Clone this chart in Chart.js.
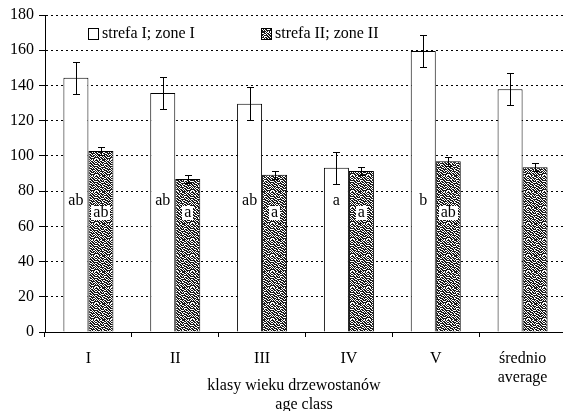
<!DOCTYPE html>
<html><head><meta charset="utf-8">
<script src="https://cdn.jsdelivr.net/npm/chart.js@4/dist/chart.umd.min.js"></script>
<style>html,body{margin:0;padding:0;background:#fff;overflow:hidden;width:563px;height:411px}
#wrap{position:relative;width:566px;height:411px}</style>
</head><body><div id="wrap"><canvas id="c" width="566" height="411"></canvas></div>
<script>
const categories = ['I', 'II', 'III', 'IV', 'V', ['średnio', 'average']];
const seriesNames = ['strefa I; zone I', 'strefa II; zone II'];
const zoneI = [144.4, 135.7, 129.6, 93.3, 159.6, 137.8];
const zoneII = [102.8, 86.9, 89.3, 91.4, 96.9, 93.5];
const errI = [9.1, 9.1, 9.4, 9.0, 9.1, 9.1];
const errII = [2.4, 2.4, 2.3, 2.5, 2.6, 2.3];
const lettersI = ['ab', 'ab', 'ab', 'a', 'b', ''];
const lettersII = ['ab', 'a', 'a', 'a', 'ab', ''];
const yTicks = [0, 20, 40, 60, 80, 100, 120, 140, 160, 180];
const xTitle = ['klasy wieku drzewostanów', 'age class'];

const FONT = '"Liberation Serif", "DejaVu Serif", serif';

function makePattern() {
  const bits = [
    "1101001110100101",
    "0110110011011010",
    "1011011100101101",
    "0100101011110110",
    "1110110100011011",
    "0011011101101100",
    "1101100010110111",
    "0110011111001010",
    "1011101001110101",
    "1100110110011110",
    "0111010011101001",
    "1010111100110110",
    "0101001011011101",
    "1110110101100011",
    "0011011010111110",
    "1001101111010100"
  ];
  const n = bits.length;
  const pc = document.createElement('canvas');
  pc.width = n; pc.height = n;
  const p = pc.getContext('2d');
  p.fillStyle = '#fff'; p.fillRect(0, 0, n, n);
  p.fillStyle = '#1a1a1a';
  for (let r = 0; r < n; r++) for (let c = 0; c < n; c++) if (bits[r][c] === '1') p.fillRect(c, r, 1, 1);
  return document.getElementById('c').getContext('2d').createPattern(pc, 'repeat');
}
const pattern = makePattern();
const errs = [errI, errII];
const letters = [lettersI, lettersII];

const overlay = {
  id: 'overlay',
  afterDatasetsDraw(chart) {
    const ctx = chart.ctx, ys = chart.scales.y;
    ctx.save();
    ctx.strokeStyle = '#000'; ctx.lineWidth = 1;
    chart.data.datasets.forEach((ds, di) => {
      const meta = chart.getDatasetMeta(di);
      meta.data.forEach((bar, i) => {
        const v = ds.data[i], e = errs[di][i];
        const cx = Math.round(bar.x) + 0.5;
        const yt = Math.round(ys.getPixelForValue(v + e)) + 0.5;
        const yb = Math.round(ys.getPixelForValue(v - e)) + 0.5;
        ctx.beginPath();
        ctx.moveTo(cx, yt); ctx.lineTo(cx, yb);
        ctx.moveTo(cx - 3.5, yt); ctx.lineTo(cx + 3.5, yt);
        ctx.moveTo(cx - 3.5, yb); ctx.lineTo(cx + 3.5, yb);
        ctx.stroke();
      });
    });
    // letters
    ctx.font = '16px ' + FONT;
    ctx.textAlign = 'center'; ctx.textBaseline = 'middle';
    const levels = [74.5, 67.5];
    chart.data.datasets.forEach((ds, di) => {
      const meta = chart.getDatasetMeta(di);
      meta.data.forEach((bar, i) => {
        const t = letters[di][i];
        if (!t) return;
        const ly = ys.getPixelForValue(levels[di]);
        if (di === 1) {
          const w = ctx.measureText(t).width + 4;
          ctx.fillStyle = '#fff';
          ctx.fillRect(Math.round(bar.x - w / 2), Math.round(ly - 7), Math.round(w), 14);
        }
        ctx.fillStyle = '#000';
        ctx.fillText(t, bar.x, ly);
      });
    });
    ctx.restore();
  },
  afterDraw(chart) {
    const ctx = chart.ctx;
    ctx.save();
    ctx.font = '16px ' + FONT;
    ctx.textBaseline = 'middle'; ctx.textAlign = 'left';
    // legend
    const items = [{x: 88, fill: '#fff'}, {x: 261, fill: pattern}];
    items.forEach((it, k) => {
      ctx.fillStyle = it.fill;
      ctx.fillRect(it.x, 28, 10, 11);
      ctx.strokeStyle = '#000'; ctx.lineWidth = 1;
      ctx.strokeRect(it.x + 0.5, 28.5, 10, 11);
      ctx.fillStyle = '#000';
      ctx.fillText(seriesNames[k], it.x + 14, 34);
    });
    // x title
    ctx.textAlign = 'center';
    ctx.fillText(xTitle[0], 294, 386);
    ctx.fillText(xTitle[1], 304, 405);
    ctx.restore();
  }
};

new Chart(document.getElementById('c'), {
  type: 'bar',
  data: {
    labels: categories,
    datasets: [
      {label: seriesNames[0], data: zoneI, backgroundColor: '#fff', borderColor: '#000', borderWidth: 1},
      {label: seriesNames[1], data: zoneII, backgroundColor: pattern, borderColor: '#000', borderWidth: 1}
    ]
  },
  options: {
    responsive: false,
    animation: false,
    devicePixelRatio: 1,
    layout: {padding: {top: 15, left: 0, right: 0, bottom: 0}},
    categoryPercentage: 0.576,
    barPercentage: 1,
    plugins: {legend: {display: false}, tooltip: {enabled: false}},
    scales: {
      x: {
        grid: {drawOnChartArea: false, offset: true, color: '#000', tickLength: 5},
        border: {color: '#000', width: 1},
        ticks: {color: '#000', font: {family: FONT, size: 16}, padding: 12, maxRotation: 0, autoSkip: false},
        afterFit(s) { s.height = 79; }
      },
      y: {
        min: 0, max: 180,
        afterBuildTicks(s) { s.ticks = yTicks.map(v => ({value: v})); },
        grid: {color: '#000', tickLength: 6, tickBorderDash: [], lineWidth: 1},
        border: {color: '#000', width: 1, dash: [2, 3]},
        ticks: {color: '#000', font: {family: FONT, size: 16}, padding: 5},
        afterFit(s) { s.width = 45; }
      }
    }
  },
  plugins: [overlay]
});
</script></body></html>
